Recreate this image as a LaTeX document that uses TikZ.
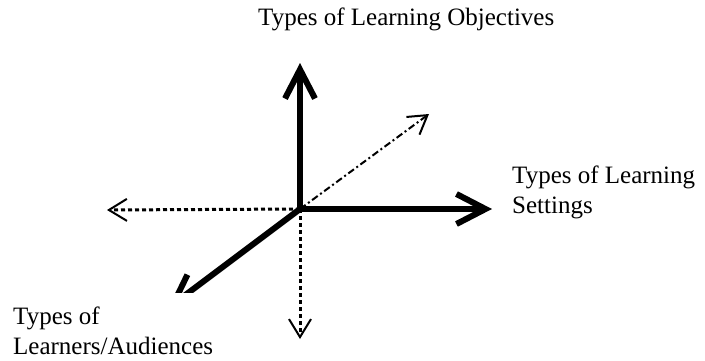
\documentclass[tikz,border=0pt]{standalone}
\usepackage{fontspec}
\setmainfont{Liberation Serif}
\usetikzlibrary{arrows.meta}

\begin{document}
\begin{tikzpicture}[x=1pt,y=-1pt,
  axis/.style={line width=6pt,line cap=round,
    -{Straight Barb[length=29pt,width=30pt,line width=6pt]}},
  faint/.style={line width=3pt,dash pattern=on 4pt off 3pt,
    -{Straight Barb[length=18pt,width=22pt,line width=2pt]}},
  lbl/.style={font=\fontsize{25}{30}\selectfont,inner sep=0pt,align=left}]
\useasboundingbox (0,0) rectangle (705,360);

\coordinate (O) at (300,209);
\coordinate (U) at (300,63);
\coordinate (R) at (492,209);
\coordinate (L) at (107,210);
\coordinate (D) at (300,339);
\coordinate (F) at (429,114);
\coordinate (B) at (168,308);

\draw[faint] (O)--(L);
\draw[faint] (O)--(D);
\draw[faint,line width=2pt,dash pattern=on 7pt off 3pt on 2pt off 3pt] (O)--(F);

\draw[axis] (O)--(U);
\draw[axis] (O)--(R);
\draw[axis] (O)--(B);

\node[lbl,anchor=base west] (objectives) at (258,25) {Types of Learning Objectives};
\node[lbl,anchor=north west] (settings) at (512,166) {Types of Learning\\Settings};
\node[lbl,anchor=north west,fill=white,inner xsep=13pt,inner ysep=14pt]
  (learners) at (0,293) {Types of\\Learners/Audiences};

\end{tikzpicture}
\end{document}
